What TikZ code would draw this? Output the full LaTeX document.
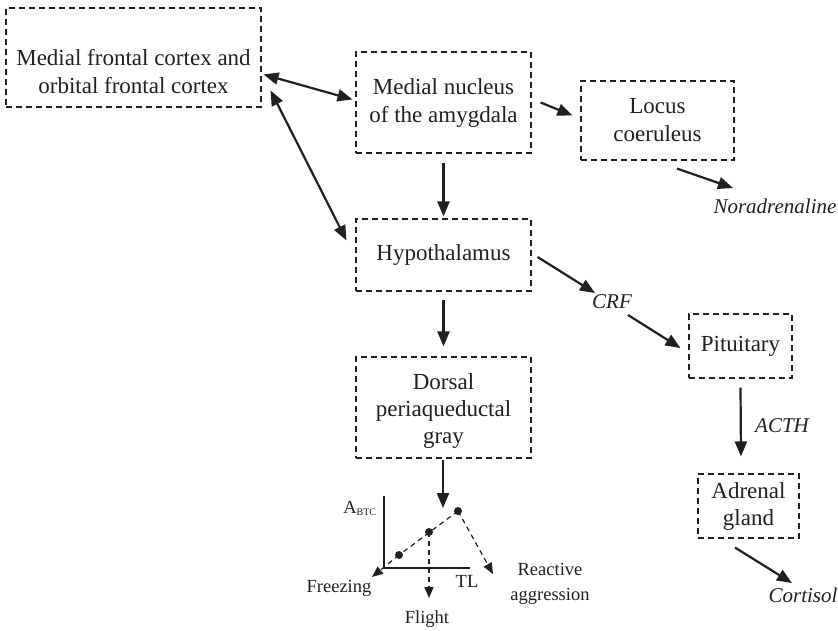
\documentclass[tikz,border=0pt]{standalone}
\usepackage{fontspec}
\setmainfont{Liberation Serif}
\usetikzlibrary{arrows.meta,calc}
\definecolor{ink}{RGB}{35,31,32}
\begin{document}
\begin{tikzpicture}[x=1pt,y=-1pt,
  every node/.style={text=ink},
  box/.style={draw=ink, dash pattern=on 6pt off 4pt, line width=1.1pt,
    align=center, inner sep=0pt, font=\fontsize{23}{28}\selectfont},
  boxtext/.style={align=center, inner sep=0pt, font=\fontsize{23}{28}\selectfont},
  lbl/.style={font=\fontsize{21}{25}\itshape, anchor=base},
  small/.style={font=\fontsize{18.5}{25}\selectfont, align=center},
  arr/.style={draw=ink, line width=2.2pt, -{Triangle[length=15pt,width=12pt]}},
  biarr/.style={draw=ink, line width=2.2pt,
    {Triangle[length=15pt,width=12pt]}-{Triangle[length=15pt,width=12pt]}},
  darr/.style={draw=ink, line width=1.2pt, dash pattern=on 5pt off 4pt,
    -{Triangle[length=11pt,width=9pt]}},
  axis/.style={draw=ink, line width=2pt},
  dot/.style={circle, fill=ink, inner sep=0pt, minimum size=8pt}
]
\useasboundingbox (0,0) rectangle (838,630);

% brain regions
\node[box, minimum width=255pt, minimum height=99pt] (mfc) at (133.5,57.5) {};
\node[boxtext] (mfctext) at (133.5,72)
  {Medial frontal cortex and\\orbital frontal cortex};
\node[box, minimum width=175pt, minimum height=101pt] (mna) at (443.5,102.5)
  {Medial nucleus\\of the amygdala};
\node[box, minimum width=153pt, minimum height=79pt] (lc) at (657.5,120.5)
  {Locus\\coeruleus};
\node[box, minimum width=175pt, minimum height=72pt] (hyp) at (443.5,255)
  {Hypothalamus};
\node[box, minimum width=175pt, minimum height=101pt] (pag) at (443.5,407.5) {};
\node[boxtext, font=\fontsize{23}{27}\selectfont] (pagtext) at (443.5,410.5)
  {Dorsal\\periaqueductal\\gray};
\node[box, minimum width=103pt, minimum height=64pt] (pit) at (740.5,346)
  {Pituitary};
\node[box, minimum width=101pt, minimum height=64pt, font=\fontsize{23}{27}\selectfont] (adr) at (748.5,506)
  {Adrenal\\gland};

% released substances
\node[lbl] (nor) at (775,213) {Noradrenaline};
\node[lbl] (crf) at (612,308) {CRF};
\node[lbl] (acth) at (782,432) {ACTH};
\node[lbl] (cort) at (803,602) {Cortisol};

% connections
\draw[biarr] ($(mfc.north east)+(2,67)$) -- ($(mna.north west)+(-3,48)$);
\draw[biarr] ($(mfc.north east)+(9,83)$) -- ($(hyp.north west)+(-9,22)$);
\draw[arr] ($(mna.north east)+(9,51)$) -- ($(lc.north west)+(-8,35)$);
\draw[arr] ($(lc.south)+(19.5,8)$) -- ($(nor.base)+(-42,-25)$);
\draw[arr] ($(mna.south)+(0,9)$) -- ($(hyp.north)+(0,-2)$);
\draw[arr] ($(hyp.east)+(6,2)$) -- ($(crf.base)+(-17,-15)$);
\draw[arr] ($(crf.base)+(16,7)$) -- ($(pit.west)+(-8,2)$);
\draw[arr] ($(hyp.south)+(0,8)$) -- ($(pag.north)+(0,-10)$);
\draw[arr] ($(pit.south)+(0,9)$) -- ($(adr.north)+(-7.5,-17)$);
\draw[arr] ($(adr.south)+(-13.5,9)$) -- ($(cort.base)+(-11,-19)$);

% defensive behaviour graph
\coordinate (o) at (384,568);
\coordinate (ytop) at (384,496);
\coordinate (xend) at (470,568);
\coordinate (gtop) at (443,508);
\coordinate (ffreeze) at (372,577);
\coordinate (fflight) at (429,598);
\coordinate (faggr) at (493,574);
\draw[arr] ($(pag.south)+(-0.5,1)$) -- (gtop);
\draw[axis] (ytop) -- (o) -- (xend);
\node[dot] (d1) at (399,555) {};
\node[dot] (d2) at (429,532) {};
\node[dot] (d3) at (458,511) {};
\draw[draw=ink, line width=1.2pt, dash pattern=on 5pt off 4pt] (d3.center) -- (d1.center);
\draw[darr] (d1.center) -- (ffreeze);
\draw[darr] (d2.center) -- (fflight);
\draw[darr] (d3.center) -- (faggr);

\node[font=\fontsize{18.5}{20}\selectfont, anchor=base] (abtc) at (360,513)
  {A\textsubscript{\fontsize{10}{10}\selectfont BTC}};
\node[small, anchor=base] (tl) at (467,587) {TL};
\node[small, anchor=base] (freeze) at (339,592) {Freezing};
\node[small, anchor=base] (flight) at (427,623) {Flight};
\node[small] (aggr) at (550,584) {Reactive\\aggression};
\end{tikzpicture}
\end{document}
